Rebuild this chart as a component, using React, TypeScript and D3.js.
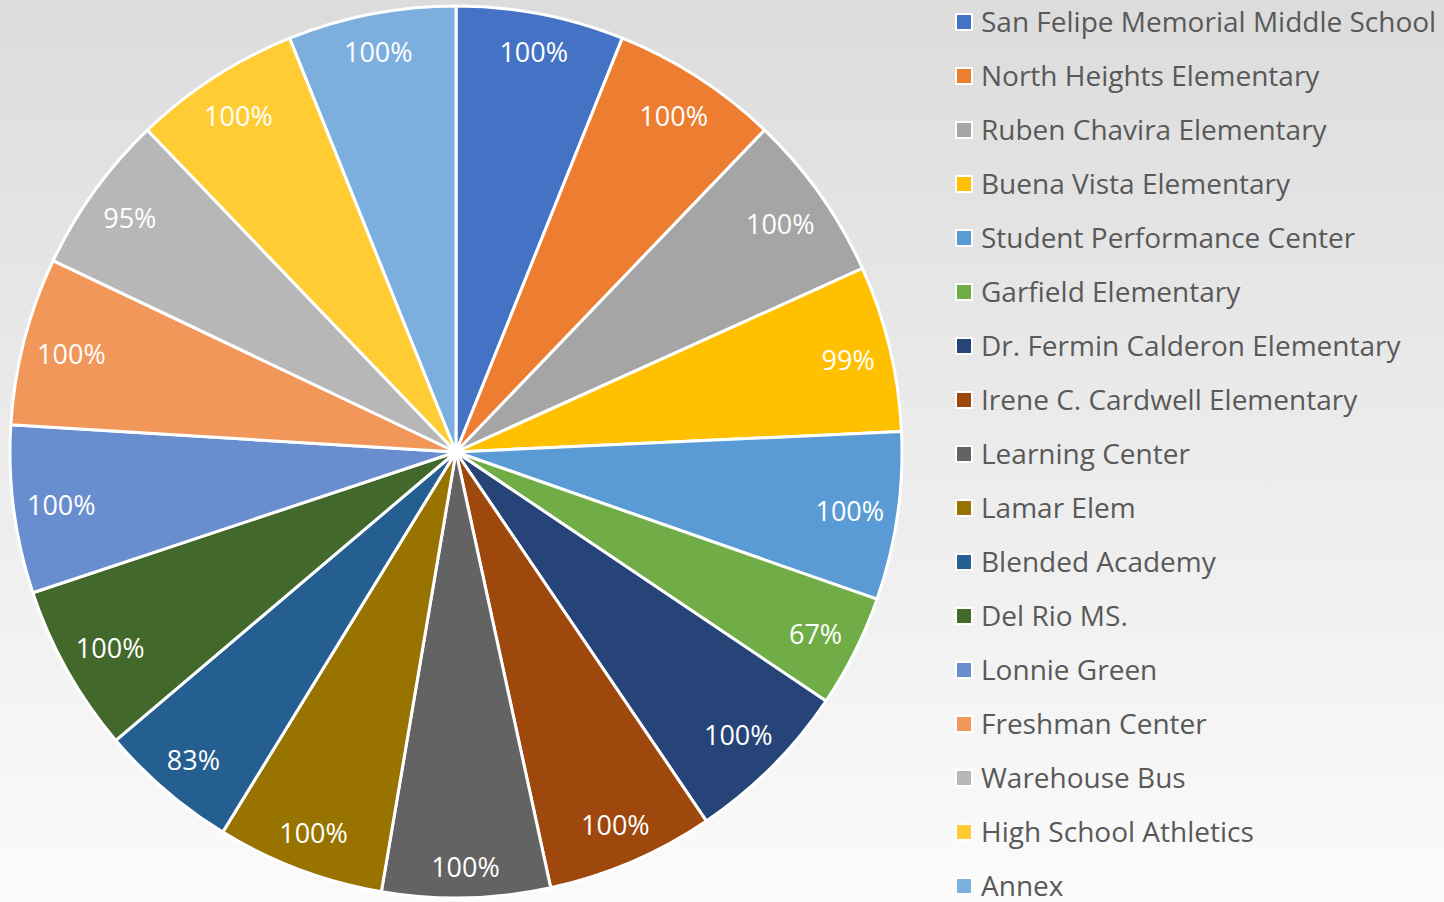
import React from "react";
import * as d3 from "d3";

const schools = [
  "San Felipe Memorial Middle School",
  "North Heights Elementary",
  "Ruben Chavira Elementary",
  "Buena Vista Elementary",
  "Student Performance Center",
  "Garfield Elementary",
  "Dr. Fermin Calderon Elementary",
  "Irene C. Cardwell Elementary",
  "Learning Center",
  "Lamar Elem",
  "Blended Academy",
  "Del Rio MS.",
  "Lonnie Green",
  "Freshman Center",
  "Warehouse Bus",
  "High School Athletics",
  "Annex",
];

const rates = [100, 100, 100, 99, 100, 67, 100, 100, 100, 100, 83, 100, 100, 100, 95, 100, 100];

const colors = [
  "#4472C4", "#ED7D31", "#A5A5A5", "#FFC000", "#5B9BD5", "#70AD47",
  "#264478", "#9E480E", "#636363", "#997300", "#255E91", "#43682B",
  "#698ED0", "#F1975A", "#B7B7B7", "#FFCD33", "#7CAFDD",
];

const App = () => {
  const ref = React.useRef<SVGSVGElement>(null);

  React.useEffect(() => {
    document.body.style.margin = "0";
    const width = 1444;
    const height = 902;
    const cx = 456;
    const cy = 452;
    const radius = 446;

    const svg = d3.select(ref.current);
    svg.selectAll("*").remove();

    // background gradient
    const grad = svg.append("defs").append("linearGradient")
      .attr("id", "bg").attr("x1", 0).attr("y1", 0).attr("x2", 0).attr("y2", 1);
    grad.append("stop").attr("offset", "0%").attr("stop-color", "#dcdcdc");
    grad.append("stop").attr("offset", "100%").attr("stop-color", "#fbfbfb");
    svg.append("rect").attr("width", width).attr("height", height).attr("fill", "url(#bg)");

    const pie = d3.pie<number>().sort(null).value(d => d);
    const arcs = pie(rates);
    const arc = d3.arc<d3.PieArcDatum<number>>().innerRadius(0).outerRadius(radius);

    const g = svg.append("g").attr("transform", `translate(${cx},${cy})`);

    g.selectAll("path")
      .data(arcs)
      .join("path")
      .attr("d", arc)
      .attr("fill", (d, i) => colors[i])
      .attr("stroke", "#ffffff")
      .attr("stroke-width", 3)
      .attr("stroke-linejoin", "round");

    // labels placed "inside end": box pushed against the rim
    const labels = g.selectAll("text")
      .data(arcs)
      .join("text")
      .attr("text-anchor", "middle")
      .attr("dy", "0.35em")
      .attr("fill", "#ffffff")
      .style("font-family", "'Open Sans', sans-serif")
      .style("font-size", "27px")
      .text(d => `${d.data}%`);

    labels.attr("transform", function (d) {
      const bb = (this as SVGTextElement).getBBox();
      const a = (d.startAngle + d.endAngle) / 2;
      const ux = Math.sin(a), uy = -Math.cos(a);
      const proj = Math.abs(ux) * bb.width * 0.4 + Math.abs(uy) * bb.height * 0.35;
      const dist = radius - 19 - proj;
      return `translate(${ux * dist},${uy * dist + 2})`;
    });

    // legend
    const ly = d3.scalePoint<string>().domain(schools).range([22, 886]);
    const legend = svg.append("g")
      .selectAll("g")
      .data(schools)
      .join("g")
      .attr("transform", d => `translate(957,${ly(d)})`);

    legend.append("rect")
      .attr("x", -2).attr("y", -9).attr("width", 18).attr("height", 18)
      .attr("fill", "#ffffff");
    legend.append("rect")
      .attr("x", 0).attr("y", -7).attr("width", 14).attr("height", 14)
      .attr("fill", (d, i) => colors[i]);
    legend.append("text")
      .attr("x", 24)
      .attr("dy", "0.36em")
      .attr("fill", "#595959")
      .style("font-family", "'Open Sans', sans-serif")
      .style("font-size", "28px")
      .text(d => d);
  }, []);

  return <svg ref={ref} width={1444} height={902} style={{ display: "block" }} />;
};

export default App;
